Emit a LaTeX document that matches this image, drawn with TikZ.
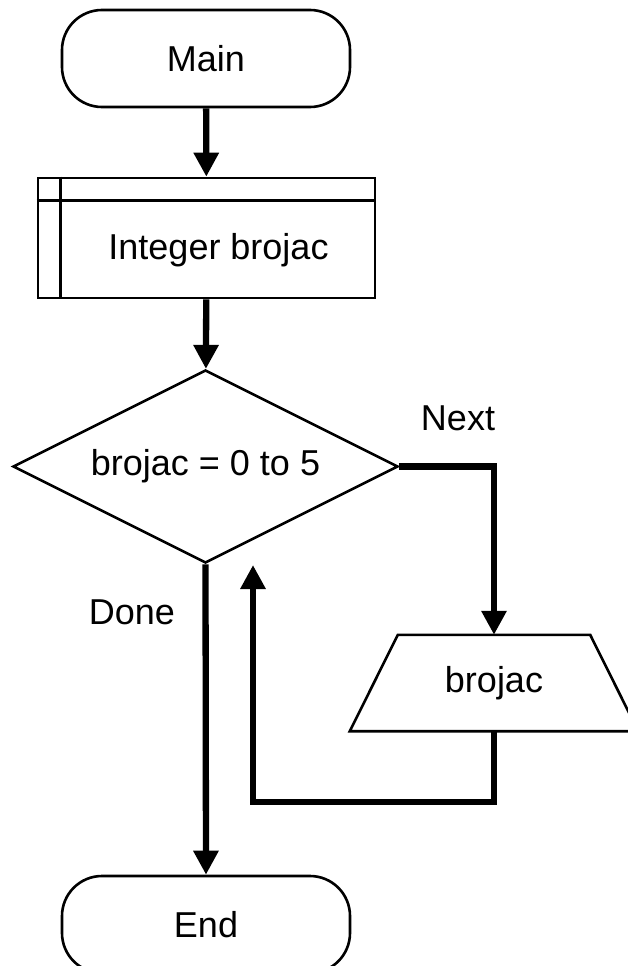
\documentclass[tikz,border=0pt]{standalone}
\usepackage{fontspec}
\setmainfont{Liberation Sans}
\usetikzlibrary{arrows.meta,shapes.geometric}
\begin{document}
\begin{tikzpicture}[x=1pt,y=-1pt,
  every node/.style={font=\fontsize{36}{43}\selectfont},
  shapeline/.style={draw=black, line width=2.6pt},
  term/.style={shapeline, rounded corners=40pt, minimum width=288pt, minimum height=97pt, inner sep=0pt},
  varbox/.style={shapeline, minimum width=337pt, minimum height=120pt, inner sep=0pt},
  decision/.style={shapeline, diamond, shape aspect=2, minimum width=385pt, minimum height=193pt, inner sep=0pt},
  iobody/.style={minimum width=192pt, minimum height=96pt, inner sep=0pt},
  flow/.style={line width=6.3pt, -{Triangle[length=24pt,width=24pt]}}
]
\useasboundingbox (0,0) rectangle (628,966);

\node[term] (main) at (206,58.5) {Main};
\node[varbox] (var) at (206.5,238) {};
\draw[shapeline] ([xshift=24pt]var.north west) -- ([xshift=24pt]var.south west);
\draw[shapeline] ([yshift=-24pt]var.north west) -- ([yshift=-24pt]var.north east);
\node (vartext) at (218.5,250) {Integer brojac};

\node[decision] (dia) at (205.5,466.5) {brojac = 0 to 5};
\node[iobody] (trap) at (494,683) {brojac};
\draw[shapeline, line join=miter] ([xshift=-48pt]trap.south west) -- (trap.north west) -- (trap.north east)
  -- ([xshift=48pt]trap.south east) -- cycle;
\node[term] (endn) at (206,924.5) {End};

\node (next) at (458,418) {Next};
\node (done) at (132,612) {Done};

\coordinate (corner) at (253,802);
\coordinate (ret) at (253,565);

\draw[flow] (main) -- (var);
\draw[flow] (var) -- (dia);
\draw[flow] (dia.east) -| (trap.north);
\draw[flow] (trap.south) |- (corner) -- (ret);
\draw[flow] (dia.south) -- (endn.north);
\end{tikzpicture}
\end{document}
